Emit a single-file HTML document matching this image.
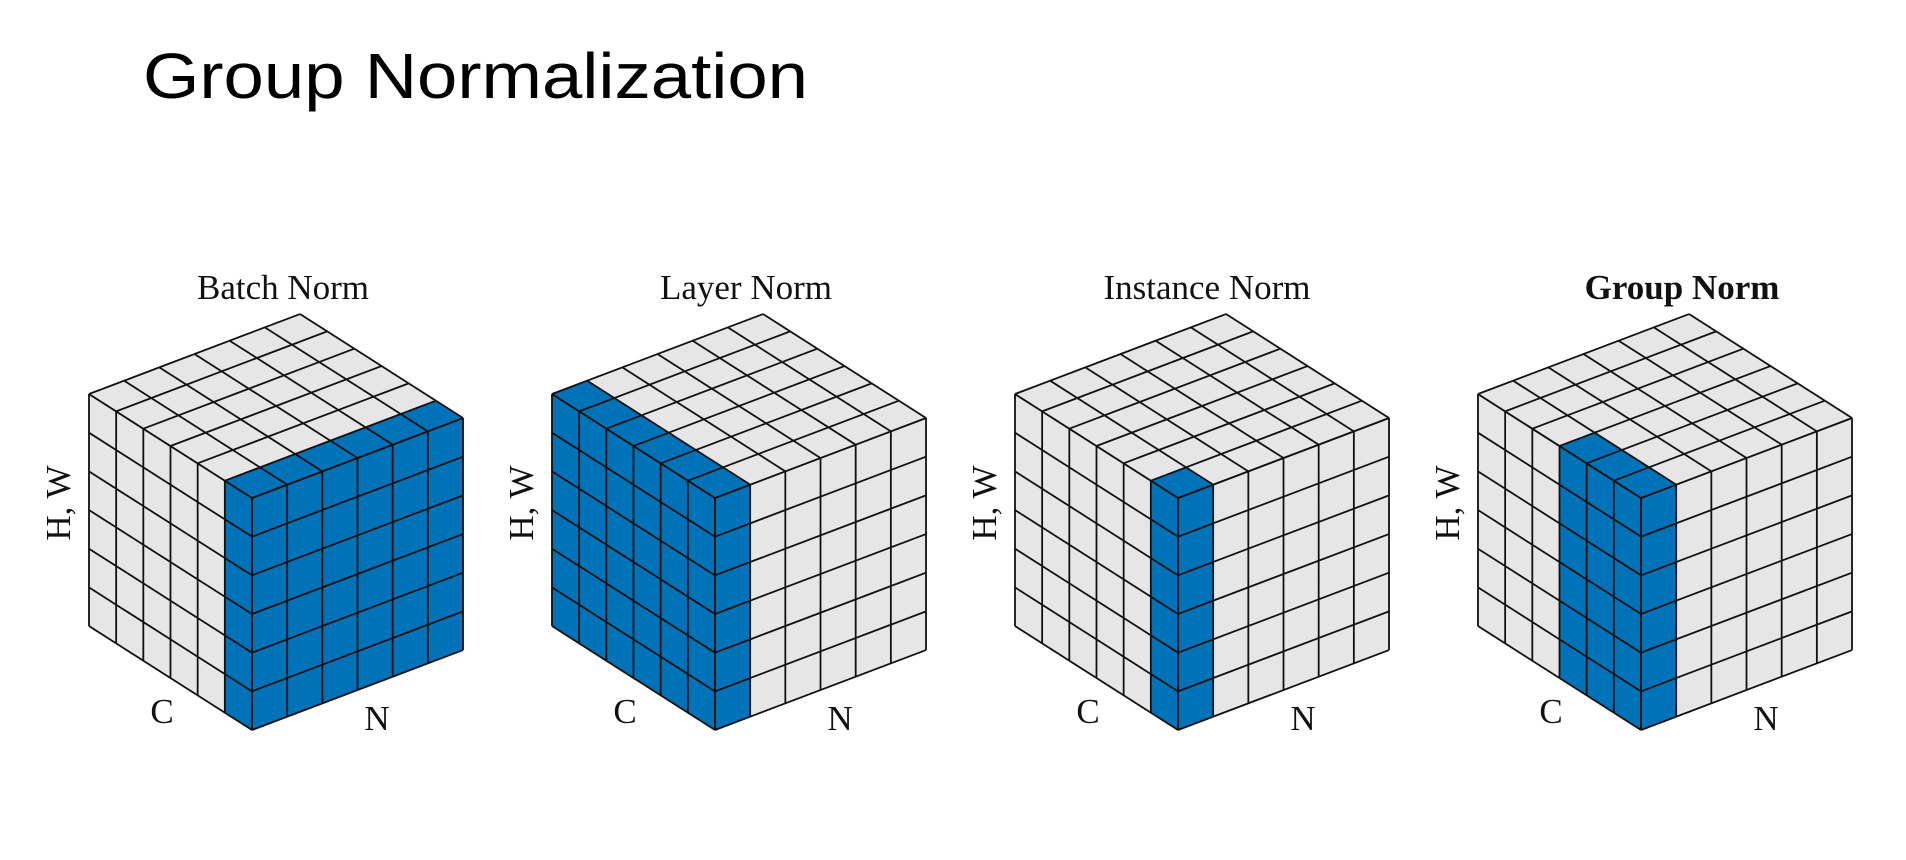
<!DOCTYPE html>
<html><head><meta charset="utf-8"><style>
html,body{margin:0;padding:0;background:#fff;width:1906px;height:860px;overflow:hidden}
svg{display:block}
.t{font-family:"Liberation Serif",serif;font-size:35px;fill:#111}
</style></head><body>
<svg width="1906" height="860" viewBox="0 0 1906 860">
<defs>
<path id="grid" d="M0 0V6M1 0V6M2 0V6M3 0V6M4 0V6M5 0V6M6 0V6M0 0H6M0 1H6M0 2H6M0 3H6M0 4H6M0 5H6M0 6H6" fill="none" stroke="#111" stroke-width="1.8" vector-effect="non-scaling-stroke"/>
<rect id="bg" width="6" height="6" fill="#e6e6e6"/>
</defs>
<text x="143" y="98" font-family="Liberation Sans, sans-serif" font-size="64" fill="#000" textLength="665" lengthAdjust="spacingAndGlyphs">Group Normalization</text>

<!-- Batch -->
<g transform="translate(252,498)">
<g transform="matrix(-27.17,-17.33,0,38.67,0,0)"><use href="#bg"/><rect width="1" height="6" fill="#0072b8"/><use href="#grid"/></g>
<g transform="matrix(35.17,-13.33,0,38.67,0,0)"><use href="#bg"/><rect width="6" height="6" fill="#0072b8"/><use href="#grid"/></g>
<g transform="matrix(35.17,-13.33,-27.17,-17.33,0,0)"><use href="#bg"/><rect width="6" height="1" fill="#0072b8"/><use href="#grid"/></g>
</g>
<!-- Layer -->
<g transform="translate(715,498)">
<g transform="matrix(-27.17,-17.33,0,38.67,0,0)"><use href="#bg"/><rect width="6" height="6" fill="#0072b8"/><use href="#grid"/></g>
<g transform="matrix(35.17,-13.33,0,38.67,0,0)"><use href="#bg"/><rect width="1" height="6" fill="#0072b8"/><use href="#grid"/></g>
<g transform="matrix(35.17,-13.33,-27.17,-17.33,0,0)"><use href="#bg"/><rect width="1" height="6" fill="#0072b8"/><use href="#grid"/></g>
</g>
<!-- Instance -->
<g transform="translate(1178,498)">
<g transform="matrix(-27.17,-17.33,0,38.67,0,0)"><use href="#bg"/><rect width="1" height="6" fill="#0072b8"/><use href="#grid"/></g>
<g transform="matrix(35.17,-13.33,0,38.67,0,0)"><use href="#bg"/><rect width="1" height="6" fill="#0072b8"/><use href="#grid"/></g>
<g transform="matrix(35.17,-13.33,-27.17,-17.33,0,0)"><use href="#bg"/><rect width="1" height="1" fill="#0072b8"/><use href="#grid"/></g>
</g>
<!-- Group -->
<g transform="translate(1641,498)">
<g transform="matrix(-27.17,-17.33,0,38.67,0,0)"><use href="#bg"/><rect width="3" height="6" fill="#0072b8"/><use href="#grid"/></g>
<g transform="matrix(35.17,-13.33,0,38.67,0,0)"><use href="#bg"/><rect width="1" height="6" fill="#0072b8"/><use href="#grid"/></g>
<g transform="matrix(35.17,-13.33,-27.17,-17.33,0,0)"><use href="#bg"/><rect width="1" height="3" fill="#0072b8"/><use href="#grid"/></g>
</g>

<g class="t" text-anchor="middle">
<text x="283" y="299">Batch Norm</text>
<text x="746" y="299">Layer Norm</text>
<text x="1207" y="299">Instance Norm</text>
<text x="1682" y="299" font-weight="bold">Group Norm</text>

<text x="162" y="723">C</text><text x="377" y="730">N</text>
<text x="625" y="723">C</text><text x="840" y="730">N</text>
<text x="1088" y="723">C</text><text x="1303" y="730">N</text>
<text x="1551" y="723">C</text><text x="1766" y="730">N</text>

<text transform="translate(70,503) rotate(-90)">H, W</text>
<text transform="translate(533,503) rotate(-90)">H, W</text>
<text transform="translate(996,503) rotate(-90)">H, W</text>
<text transform="translate(1459,503) rotate(-90)">H, W</text>
</g>
</svg>
</body></html>
